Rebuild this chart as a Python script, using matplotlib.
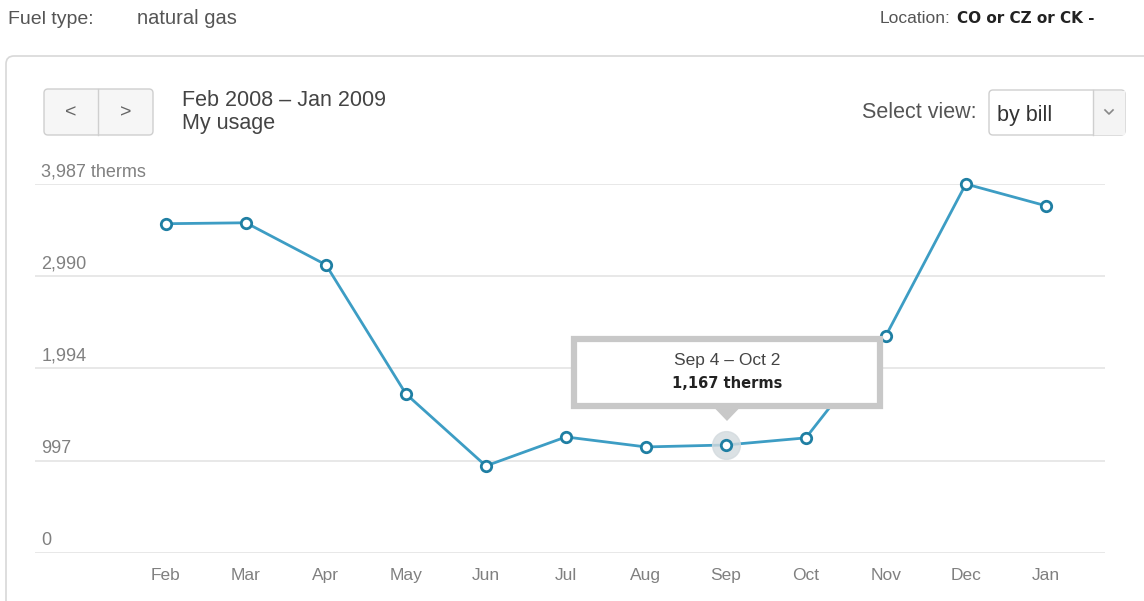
import matplotlib
matplotlib.use("Agg")
import matplotlib.pyplot as plt
from matplotlib.patches import FancyBboxPatch, Rectangle, Polygon
from matplotlib.transforms import blended_transform_factory

months = ["Feb", "Mar", "Apr", "May", "Jun", "Jul", "Aug", "Sep", "Oct", "Nov", "Dec", "Jan"]
usage = [3558, 3568, 3114, 1719, 941, 1254, 1146, 1167, 1244, 2347, 3987, 3752]
yticks = [0, 997, 1994, 2990, 3987]
ytick_labels = ["0", "997", "1,994", "2,990", "3,987 therms"]
highlight = 7  # Sep

W, H = 1144, 601
plt.rcParams["font.family"] = ["Liberation Sans", "DejaVu Sans"]
fig = plt.figure(figsize=(W / 100, H / 100), dpi=100)

# overlay axes in pixel coords for the page furniture
ui = fig.add_axes([0, 0, 1, 1], zorder=0)
ui.set_xlim(0, W)
ui.set_ylim(H, 0)
ui.axis("off")

grey = "#555555"
ui.text(8, 24, "Fuel type:", fontsize=14, color=grey, va="baseline")
ui.text(137, 24, "natural gas", fontsize=14.5, color=grey, va="baseline")
ui.text(880, 23, "Location:", fontsize=12.5, color=grey, va="baseline")
ui.text(957, 23, "CO or CZ or CK -", fontsize=11, color="#222222", va="baseline",
        fontweight="bold", family="DejaVu Sans")

# card
card = FancyBboxPatch((6, 56), 1200, 600, boxstyle="round,pad=0,rounding_size=8",
                      fc="white", ec="#d8d8d8", lw=1.2)
ui.add_patch(card)

# prev / next buttons
btn = FancyBboxPatch((44, 89), 109, 46, boxstyle="round,pad=0,rounding_size=4",
                     fc="#f6f6f6", ec="#cfcfcf", lw=1)
ui.add_patch(btn)
ui.plot([98, 98], [89, 135], color="#cfcfcf", lw=1)
ui.text(71, 113, "<", fontsize=14, color="#666666", ha="center", va="center")
ui.text(126, 113, ">", fontsize=14, color="#666666", ha="center", va="center")

ui.text(182, 101, "Feb 2008 \u2013 Jan 2009", fontsize=15.5, color="#444444", va="center")
ui.text(182, 124, "My usage", fontsize=15.5, color="#444444", va="center")

# view selector
ui.text(977, 113, "Select view:", fontsize=15.5, color="#555555", ha="right", va="center")
sel = FancyBboxPatch((989, 90), 136, 45, boxstyle="round,pad=0,rounding_size=4",
                     fc="white", ec="#cfcfcf", lw=1)
ui.add_patch(sel)
ui.add_patch(Rectangle((1093, 90.5), 31.5, 44, fc="#f4f4f4", ec="none"))
ui.plot([1093, 1093], [90, 135], color="#cfcfcf", lw=1)
ui.text(997, 116, "by bill", fontsize=15.5, color="#333333", va="center")
ui.plot([1105, 1109, 1113], [110, 114, 110], color="#888888", lw=1.2)

# chart
left, right, top, bottom = 35, 1105, 184, 553
ax = fig.add_axes([left / W, 1 - bottom / H, (right - left) / W, (bottom - top) / H], zorder=1)
ax.patch.set_alpha(0)
x = list(range(len(months)))
ax.set_xlim(-1.6375, 11.74)
ax.set_ylim(0, 3987)
for s in ax.spines.values():
    s.set_visible(False)
for v in yticks:
    ax.axhline(v, color="#e4e4e4", lw=1.2, zorder=0)
trans = blended_transform_factory(ax.transAxes, ax.transData)
for v, lab in zip(yticks, ytick_labels):
    ax.text(0.006, v + 40, lab, transform=trans, fontsize=13, color="#808080",
            va="bottom", ha="left")
ax.set_yticks([])
ax.set_xticks(x)
ax.set_xticklabels(months, fontsize=12.5, color="#808080")
ax.tick_params(axis="x", length=0, pad=11)

ax.plot(x, usage, color="#3d9dc4", lw=2, zorder=3, clip_on=False)
ax.plot(x[highlight], usage[highlight], "o", ms=20, color="#d3dade", alpha=0.8,
        zorder=3, clip_on=False)
ax.plot(x, usage, "o", ms=7.5, mfc="white", mec="#1f7fa3", mew=2, ls="none",
        zorder=4, clip_on=False)

# tooltip
tip = fig.add_axes([0, 0, 1, 1], zorder=2)
tip.set_xlim(0, W)
tip.set_ylim(H, 0)
tip.axis("off")
tip.add_patch(Rectangle((574, 339), 306, 67, fc="white", ec="#c8c8c8", lw=4.5))
tip.add_patch(Polygon([[715, 408.5], [739, 408.5], [727, 421]], fc="#c8c8c8", ec="none"))
tip.text(727, 361, "Sep 4 \u2013 Oct 2", fontsize=12.5, color="#444444", ha="center", va="center")
tip.text(727, 384, "1,167 therms", fontsize=10.5, color="#222222", ha="center", va="center",
         fontweight="bold", family="DejaVu Sans")

fig.savefig("out.png", dpi=100)
